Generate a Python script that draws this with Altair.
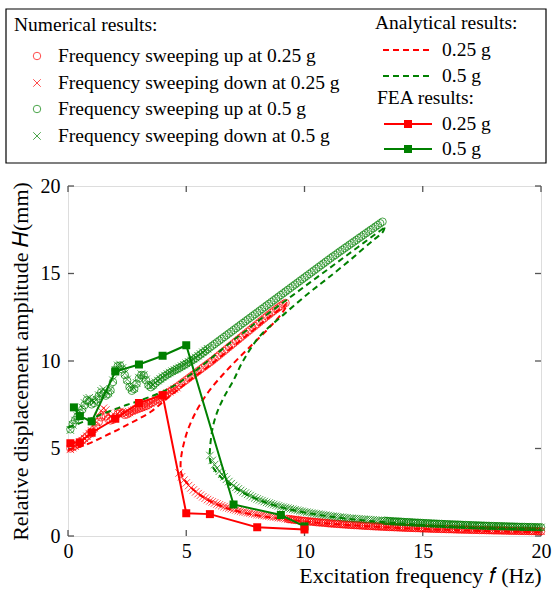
import altair as alt
import numpy as np
import pandas as pd

RED = "#ff0000"
GREEN = "#008000"
FRAME = "#555555"
FONT = "Liberation Serif"
STEP = 0.1  # frequency increment of the numerical sweeps (Hz)

# ---------------- numerical results ----------------
# 0.25 g, sweeping up, upper branch: 0.1 ... 9.2 Hz
UP_025_H = [5.00, 5.08, 5.16, 5.25, 5.35, 5.46, 5.57, 5.69, 5.82, 5.95,
            6.10, 6.28, 6.52, 6.78, 6.92, 6.84, 6.68, 6.60, 6.64, 6.78,
            6.96, 7.08, 7.02, 6.92, 6.95, 7.04, 7.13, 7.19, 7.24, 7.29,
            7.33, 7.38, 7.43, 7.50, 7.58, 7.66, 7.74, 7.82, 7.90, 7.98,
            8.06, 8.15, 8.24, 8.33, 8.42, 8.52, 8.62, 8.72, 8.82, 8.92,
            9.02, 9.12, 9.22, 9.32, 9.42, 9.52, 9.62, 9.72, 9.82, 9.92,
            10.02, 10.13, 10.24, 10.35, 10.46, 10.57, 10.68, 10.79, 10.90, 11.01,
            11.12, 11.23, 11.34, 11.45, 11.56, 11.67, 11.78, 11.89, 12.00, 12.11,
            12.22, 12.33, 12.44, 12.55, 12.65, 12.76, 12.86, 12.96, 13.06, 13.15,
            13.24, 13.32]
# 0.25 g, sweeping down, upper branch after the jump up: 0.1 ... 4.6 Hz
DOWN_025_HI_H = [4.95, 5.05, 5.14, 5.24, 5.34, 5.45, 5.57, 5.70, 5.85, 6.00,
                 6.20, 6.50, 6.85, 7.15, 7.30, 7.20, 7.00, 6.82, 6.75, 6.85,
                 7.00, 7.12, 7.10, 7.00, 7.00, 7.06, 7.14, 7.20, 7.25, 7.30,
                 7.35, 7.40, 7.45, 7.52, 7.60, 7.68, 7.76, 7.84, 7.92, 8.00,
                 8.08, 8.16, 8.24, 8.32, 8.40, 8.48]
# 0.25 g, lower branch: 4.7 ... 20 Hz
LOW_025_H = [3.60, 3.38, 3.19, 3.03,
             2.88, 2.75, 2.63, 2.52, 2.42, 2.33, 2.24, 2.16, 2.08, 2.01,
             1.95, 1.89, 1.83, 1.78, 1.73, 1.68, 1.64, 1.60, 1.56, 1.52,
             1.49, 1.45, 1.42, 1.39, 1.36, 1.33, 1.31, 1.28, 1.26, 1.23,
             1.21, 1.19, 1.17, 1.15, 1.13, 1.11, 1.09, 1.07, 1.05, 1.03,
             1.01, 0.99, 0.97, 0.96, 0.94, 0.92, 0.91, 0.89, 0.87, 0.86,
             0.85, 0.83, 0.82, 0.81, 0.79, 0.78, 0.77, 0.76, 0.75, 0.73,
             0.72, 0.71, 0.70, 0.69, 0.68, 0.67, 0.66, 0.65, 0.64, 0.63,
             0.62, 0.62, 0.61, 0.60, 0.59, 0.58, 0.58, 0.57, 0.56, 0.55,
             0.55, 0.54, 0.53, 0.53, 0.52, 0.51, 0.51, 0.50, 0.50, 0.49,
             0.48, 0.48, 0.47, 0.47, 0.46, 0.46, 0.45, 0.45, 0.44, 0.44,
             0.43, 0.43, 0.42, 0.42, 0.41, 0.41, 0.41, 0.40, 0.40, 0.39,
             0.39, 0.39, 0.38, 0.38, 0.37, 0.37, 0.37, 0.36, 0.36, 0.36,
             0.35, 0.35, 0.35, 0.34, 0.34, 0.34, 0.33, 0.33, 0.33, 0.32,
             0.32, 0.32, 0.32, 0.31, 0.31, 0.31, 0.30, 0.30, 0.30, 0.30,
             0.29, 0.29, 0.29, 0.29, 0.28, 0.28, 0.28, 0.28, 0.27, 0.27]

# 0.5 g, sweeping up, upper branch: 0.1 ... 13.3 Hz
UP_05_H = [6.10, 6.40, 6.62, 6.82, 7.02, 7.22, 7.48, 7.76, 7.70, 7.52,
           7.60, 7.80, 8.00, 8.20, 8.10, 8.02, 8.12, 8.32, 8.80, 9.48,
           9.70, 9.74, 9.52, 9.20, 8.88, 8.52, 8.30, 8.40, 8.70, 9.00,
           9.20, 9.18, 8.90, 8.62, 8.50, 8.60, 8.74, 8.85, 8.95, 9.05,
           9.14, 9.23, 9.31, 9.39, 9.46, 9.53, 9.60, 9.68, 9.76, 9.84,
           9.92, 10.00, 10.08, 10.17, 10.27, 10.37, 10.47, 10.57, 10.67, 10.77,
           10.87, 10.97, 11.07, 11.17, 11.27, 11.37, 11.47, 11.57, 11.67, 11.77,
           11.87, 11.97, 12.07, 12.17, 12.27, 12.37, 12.47, 12.57, 12.67, 12.77,
           12.87, 12.97, 13.07, 13.17, 13.27, 13.37, 13.47, 13.57, 13.67, 13.77,
           13.87, 13.97, 14.07, 14.17, 14.27, 14.37, 14.47, 14.57, 14.67, 14.77,
           14.87, 14.97, 15.07, 15.17, 15.27, 15.37, 15.47, 15.57, 15.67, 15.77,
           15.87, 15.97, 16.06, 16.16, 16.26, 16.35, 16.45, 16.54, 16.64, 16.73,
           16.83, 16.92, 17.02, 17.11, 17.21, 17.30, 17.40, 17.49, 17.58, 17.68,
           17.77, 17.87, 17.96]
# 0.5 g, sweeping down, upper branch after the jump up: 0.1 ... 5.9 Hz
DOWN_05_HI_H = [6.05, 6.35, 6.60, 6.85, 7.10, 7.35, 7.60, 7.85, 7.90, 7.70,
                7.65, 7.80, 8.05, 8.30, 8.40, 8.25, 8.20, 8.40, 8.90, 9.50,
                9.75, 9.80, 9.60, 9.30, 8.95, 8.60, 8.40, 8.45, 8.75, 9.05,
                9.25, 9.20, 8.95, 8.70, 8.58, 8.65, 8.78, 8.88, 8.98, 9.08,
                9.17, 9.26, 9.34, 9.42, 9.49, 9.56, 9.63, 9.71, 9.79, 9.87,
                9.95, 10.03, 10.11, 10.20, 10.30, 10.40, 10.50, 10.60, 10.70]
# 0.5 g, lower branch: 6.0 ... 20 Hz
LOW_05_H = [4.60, 4.32, 4.08, 3.88, 3.70, 3.53, 3.38, 3.24, 3.11, 2.99, 2.88,
            2.78, 2.69, 2.60, 2.52, 2.45, 2.38, 2.31, 2.24, 2.18, 2.12,
            2.07, 2.02, 1.97, 1.92, 1.88, 1.84, 1.80, 1.76, 1.72, 1.68,
            1.65, 1.62, 1.59, 1.56, 1.53, 1.50, 1.47, 1.44, 1.41, 1.38,
            1.36, 1.34, 1.31, 1.29, 1.27, 1.25, 1.23, 1.21, 1.19, 1.17,
            1.15, 1.13, 1.12, 1.10, 1.08, 1.07, 1.05, 1.04, 1.02, 1.01,
            1.00, 0.99, 0.98, 0.97, 0.96, 0.95, 0.94, 0.93, 0.92, 0.91,
            0.90, 0.89, 0.88, 0.87, 0.86, 0.85, 0.84, 0.83, 0.83, 0.82,
            0.81, 0.80, 0.79, 0.79, 0.78, 0.77, 0.76, 0.76, 0.75, 0.74,
            0.73, 0.73, 0.72, 0.71, 0.71, 0.70, 0.69, 0.69, 0.68, 0.67,
            0.67, 0.66, 0.66, 0.65, 0.65, 0.64, 0.63, 0.63, 0.62, 0.62,
            0.61, 0.61, 0.60, 0.60, 0.59, 0.59, 0.58, 0.58, 0.57, 0.57,
            0.56, 0.56, 0.56, 0.55, 0.55, 0.54, 0.54, 0.54, 0.53, 0.53,
            0.52, 0.52, 0.52, 0.51, 0.51, 0.51, 0.50, 0.50, 0.50, 0.49]

# ---------------- analytical results (upper, unstable and lower branches, in order) ----------------
ANA_025_F = [0.0, 0.5, 1.0, 1.5, 2.0, 2.5, 3.0, 3.5, 4.0, 4.5, 5.0, 5.5, 6.0, 6.5, 7.0, 7.5, 8.0, 8.5, 8.9, 9.15, 9.25,
             9.2, 9.0, 8.4, 7.8, 7.2, 6.6, 6.0, 5.6, 5.3, 5.05, 4.9, 4.8, 4.76, 4.78,
             4.85, 5.0, 5.3, 5.6, 6.0, 6.5, 7.0, 8.0, 9.0, 10.0, 11.0, 12.0, 13.0, 14.0, 15.0, 16.0, 17.0, 18.0, 19.0, 20.0]
ANA_025_H = [4.90, 5.10, 5.35, 5.68, 6.00, 6.35, 6.70, 7.10, 7.65, 8.20, 8.75, 9.25, 9.75, 10.30, 10.85, 11.40, 11.95, 12.50, 12.90, 13.15, 13.30,
             13.05, 12.65, 11.75, 10.95, 10.15, 9.30, 8.35, 7.55, 6.80, 6.00, 5.30, 4.65, 4.10, 3.65,
             3.40, 3.08, 2.65, 2.33, 2.00, 1.70, 1.48, 1.18, 0.98, 0.83, 0.71, 0.61, 0.53, 0.46, 0.40, 0.35, 0.31, 0.27, 0.24, 0.21]
ANA_05_F = [0.0, 0.5, 1.0, 1.5, 2.0, 2.5, 3.0, 3.5, 4.0, 4.5, 5.0, 5.5, 6.0, 6.5, 7.0, 7.5, 8.0, 8.5, 9.0, 9.5, 10.0,
            10.5, 11.0, 11.5, 12.0, 12.5, 13.0, 13.3, 13.4,
            13.3, 12.9, 12.0, 11.0, 10.2, 9.2, 8.1, 7.4, 7.0, 6.6, 6.3, 6.12, 6.04, 6.0, 5.99,
            6.02, 6.1, 6.3, 6.6, 7.0, 7.5, 8.0, 9.0, 10.0, 11.0, 12.0, 13.0, 14.0, 15.0, 16.0, 17.0, 18.0, 19.0, 20.0]
ANA_05_H = [6.20, 6.45, 6.72, 7.00, 7.25, 7.50, 7.72, 7.97, 8.25, 8.60, 9.05, 9.55, 10.10, 10.65, 11.20, 11.70, 12.25, 12.75, 13.25, 13.75, 14.25,
            14.75, 15.25, 15.75, 16.25, 16.75, 17.25, 17.55, 17.70,
            17.35, 16.90, 15.85, 14.75, 13.90, 12.75, 11.40, 10.00, 8.90, 7.95, 7.05, 6.20, 5.50, 4.90, 4.50,
            4.25, 4.00, 3.60, 3.20, 2.80, 2.40, 2.10, 1.65, 1.35, 1.13, 0.96, 0.83, 0.72, 0.63, 0.55, 0.49, 0.44, 0.40, 0.36]

# ---------------- FEA results ----------------
FEA_025_F = [0.1, 0.5, 1, 2, 3, 4, 5, 6, 8, 10]
FEA_025_H = [5.30, 5.35, 5.90, 6.70, 7.60, 8.05, 1.30, 1.25, 0.50, 0.37]
FEA_05_F = [0.25, 0.5, 1, 2, 3, 4, 5, 7, 9, 10]
FEA_05_H = [7.35, 6.85, 6.55, 9.40, 9.80, 10.30, 10.90, 1.80, 1.20, 0.55]

TICKS = [0, 5, 10, 15, 20]

NUM_LABELS = ["Frequency sweeping up at 0.25 g", "Frequency sweeping down at 0.25 g",
              "Frequency sweeping up at 0.5 g", "Frequency sweeping down at 0.5 g"]
AMP_LABELS = ["0.25 g", "0.5 g"]


def sweep(start, values):
    f = np.round(start + STEP * np.arange(len(values)), 2)
    return pd.DataFrame({"f": f, "H": values})


red_up = pd.concat([sweep(0.1, UP_025_H), sweep(4.7, LOW_025_H).query("f >= 9.3")])
red_down = pd.concat([sweep(4.7, LOW_025_H), sweep(0.1, DOWN_025_HI_H)])
green_up = pd.concat([sweep(0.1, UP_05_H), sweep(6.0, LOW_05_H).query("f >= 13.4")])
green_down = pd.concat([sweep(6.0, LOW_05_H), sweep(0.1, DOWN_05_HI_H)])

ana_025 = pd.DataFrame({"f": ANA_025_F, "H": ANA_025_H, "i": range(len(ANA_025_F))})
ana_05 = pd.DataFrame({"f": ANA_05_F, "H": ANA_05_H, "i": range(len(ANA_05_F))})
fea_025 = pd.DataFrame({"f": FEA_025_F, "H": FEA_025_H})
fea_05 = pd.DataFrame({"f": FEA_05_F, "H": FEA_05_H})
ticks = pd.DataFrame({"t": TICKS})
one = pd.DataFrame({"k": [0]})

W, H = 473, 350
X_MARK = "M-1,-1L1,1M-1,1L1,-1"

x_scale = alt.Scale(domain=[0, 20], nice=False, zero=False)
y_scale = alt.Scale(domain=[0, 20], nice=False, zero=False)
x_axis = alt.Axis(values=TICKS, title="Excitation frequency 𝑓 (Hz)", domain=False, ticks=False, grid=False,
                  labelFont=FONT, labelFontSize=20, labelColor="black", labelPadding=5, labelFlush=False,
                  titleFont=FONT, titleFontSize=22, titleFontWeight="normal", titleColor="black",
                  titleAnchor="end", titlePadding=4)
y_axis = alt.Axis(values=TICKS, title="Relative displacement amplitude 𝐻(mm)", domain=False, ticks=False,
                  grid=False, labelFont=FONT, labelFontSize=20, labelColor="black", labelPadding=8,
                  labelFlush=False, titleFont=FONT, titleFontSize=22, titleFontWeight="normal",
                  titleColor="black", titlePadding=8)


def X(field):
    return alt.X(f"{field}:Q", scale=x_scale, axis=x_axis)


def Y(field):
    return alt.Y(f"{field}:Q", scale=y_scale, axis=y_axis)


# inward ticks on all four sides of the frame
tick_rules = [
    alt.Chart(ticks).mark_rule(color=FRAME, strokeWidth=1.3).encode(x=X("t"), y=alt.value(H), y2=alt.value(H - 6)),
    alt.Chart(ticks).mark_rule(color=FRAME, strokeWidth=1.3).encode(x=X("t"), y=alt.value(0), y2=alt.value(6)),
    alt.Chart(ticks).mark_rule(color=FRAME, strokeWidth=1.3).encode(y=Y("t"), x=alt.value(0), x2=alt.value(6)),
    alt.Chart(ticks).mark_rule(color=FRAME, strokeWidth=1.3).encode(y=Y("t"), x=alt.value(W), x2=alt.value(W - 6)),
]


def circles(df, color):
    return alt.Chart(df).mark_point(shape="circle", filled=False, size=56, strokeWidth=1, color=color).encode(
        x=X("f"), y=Y("H"))


def crosses(df, color):
    return alt.Chart(df).mark_point(shape=X_MARK, filled=False, size=56, strokeWidth=1, color=color).encode(
        x=X("f"), y=Y("H"))


def dashed(df, color):
    return alt.Chart(df).mark_line(color=color, strokeWidth=2, strokeDash=[6, 4],
                                   interpolate="catmull-rom").encode(x=X("f"), y=Y("H"), order="i:Q")


def fea(df, color):
    return alt.Chart(df).mark_line(color=color, strokeWidth=2,
                                   point=alt.OverlayMarkDef(shape="square", size=64, filled=True, color=color,
                                                            opacity=1)).encode(x=X("f"), y=Y("H"))


def text(label, x, y, size=19.5):
    return alt.Chart(one).mark_text(font=FONT, fontSize=size, align="left", baseline="middle",
                                    color="black").encode(x=alt.value(x), y=alt.value(y), text=alt.value(label))


# legend placed above the plot area, in pixel offsets from the plot's top-left corner
legend = [
    alt.Chart(one).mark_rect(fillOpacity=0, stroke="black", strokeWidth=1.2).encode(
        x=alt.value(-62), x2=alt.value(478), y=alt.value(-177), y2=alt.value(-23)),
    text("Numerical results:", -54, -161),
]
row_y = [-130, -103, -77, -50]
row_marks = [("circle", RED), (X_MARK, RED), ("circle", GREEN), (X_MARK, GREEN)]
for (shape, color), label, yy in zip(row_marks, NUM_LABELS, row_y):
    legend.append(alt.Chart(one).mark_point(shape=shape, filled=False, size=56, strokeWidth=1, color=color)
                  .encode(x=alt.value(-31), y=alt.value(yy)))
    legend.append(text(label, -10, yy))

legend.append(text("Analytical results:", 307, -163))
for color, label, yy in zip([RED, GREEN], AMP_LABELS, [-136, -110]):
    legend.append(alt.Chart(one).mark_rule(color=color, strokeWidth=2, strokeDash=[6, 4]).encode(
        x=alt.value(315), x2=alt.value(365), y=alt.value(yy)))
    legend.append(text(label, 374, yy))

legend.append(text("FEA results:", 309, -88))
for color, label, yy in zip([RED, GREEN], AMP_LABELS, [-62, -37]):
    legend.append(alt.Chart(one).mark_rule(color=color, strokeWidth=2).encode(
        x=alt.value(316), x2=alt.value(364), y=alt.value(yy)))
    legend.append(alt.Chart(one).mark_point(shape="square", filled=True, size=64, color=color, opacity=1).encode(
        x=alt.value(340), y=alt.value(yy)))
    legend.append(text(label, 374, yy))

layers = tick_rules + [
    circles(red_up, RED),
    crosses(red_down, RED),
    circles(green_up, GREEN),
    crosses(green_down, GREEN),
    dashed(ana_025, RED),
    dashed(ana_05, GREEN),
    fea(fea_05, GREEN),
    fea(fea_025, RED),
] + legend

chart = alt.layer(*layers).properties(
    width=W, height=H,
    autosize=alt.AutoSizeParams(type="none"),
    padding={"left": 68, "top": 186, "right": 11, "bottom": 54},
).configure_view(
    stroke=FRAME, strokeWidth=1.3
).configure_axis(
    labelFont=FONT, titleFont=FONT, labelFontSize=20, titleFontSize=22, titleFontWeight="normal",
    labelColor="black", titleColor="black"
).configure(background="white", font=FONT)

chart.save("out.html", embed_options={"renderer": "svg", "actions": False})
